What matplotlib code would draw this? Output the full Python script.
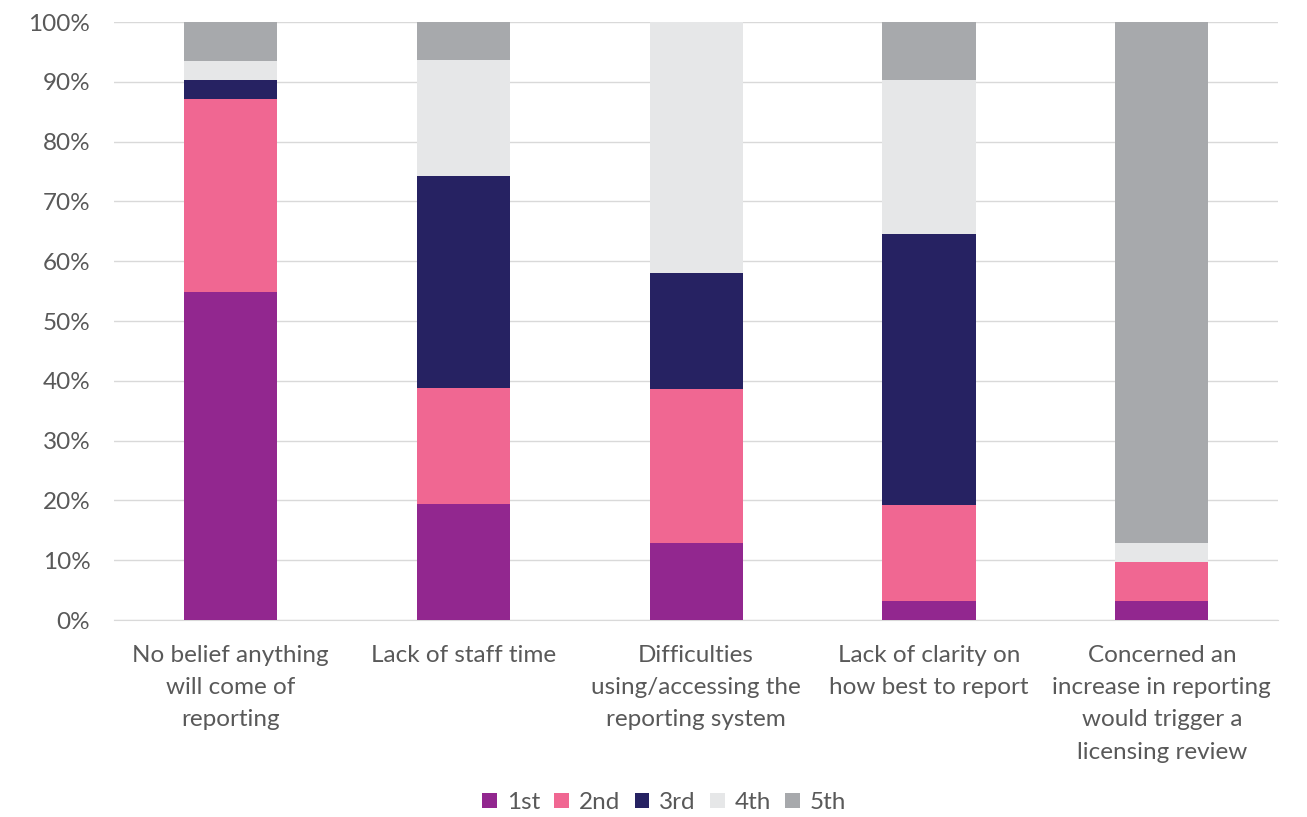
import matplotlib
matplotlib.use("Agg")
import matplotlib.pyplot as plt
import numpy as np

categories = [
    "No belief anything\nwill come of\nreporting",
    "Lack of staff time",
    "Difficulties\nusing/accessing the\nreporting system",
    "Lack of clarity on\nhow best to report",
    "Concerned an\nincrease in reporting\nwould trigger a\nlicensing review",
]
series_names = ["1st", "2nd", "3rd", "4th", "5th"]
first = [54.8, 19.4, 12.9, 3.2, 3.2]
second = [32.3, 19.4, 25.8, 16.1, 6.5]
third = [3.2, 35.5, 19.4, 45.2, 0.0]
fourth = [3.2, 19.4, 41.9, 25.8, 3.2]
fifth = [6.5, 6.5, 0.0, 9.7, 87.1]
colors = ["#92278F", "#F06792", "#262262", "#E6E7E8", "#A7A9AC"]

plt.rcParams['font.family'] = ['Lato', 'DejaVu Sans']
fig = plt.figure(figsize=(13.07, 8.17), dpi=100)
ax = fig.add_axes([0.0872, 0.2411, 0.8908, 0.7319])

x = np.arange(len(categories))
bottom = np.zeros(len(categories))
for name, vals, c in zip(series_names, [first, second, third, fourth, fifth], colors):
    vals = np.array(vals)
    ax.bar(x, vals, 0.4, bottom=bottom, color=c, label=name, zorder=3)
    bottom += vals

ax.set_xlim(-0.5, len(categories) - 0.5)
ax.set_ylim(0, 100)
ax.set_yticks(np.arange(0, 101, 10))
ax.set_yticklabels([f"{v}%" for v in range(0, 101, 10)])
ax.yaxis.grid(True, color="#D9D9D9", linewidth=1, zorder=0)
ax.set_xticks(x)
ax.set_xticklabels(categories, linespacing=1.66)
for s in ["top", "right", "left"]:
    ax.spines[s].set_visible(False)
ax.spines["bottom"].set_color("#D9D9D9")
ax.tick_params(axis="both", length=0, labelsize=17.5, colors="#595959")
ax.tick_params(axis="x", pad=18)
ax.tick_params(axis="y", pad=17)

leg = ax.legend(loc="center", bbox_to_anchor=(0.4725, -0.305), ncol=5, frameon=False,
                fontsize=17.5, handlelength=0.6, handleheight=0.6, columnspacing=0.6,
                handletextpad=0.4)
for t in leg.get_texts():
    t.set_color("#595959")

fig.savefig("out.png", dpi=100)
